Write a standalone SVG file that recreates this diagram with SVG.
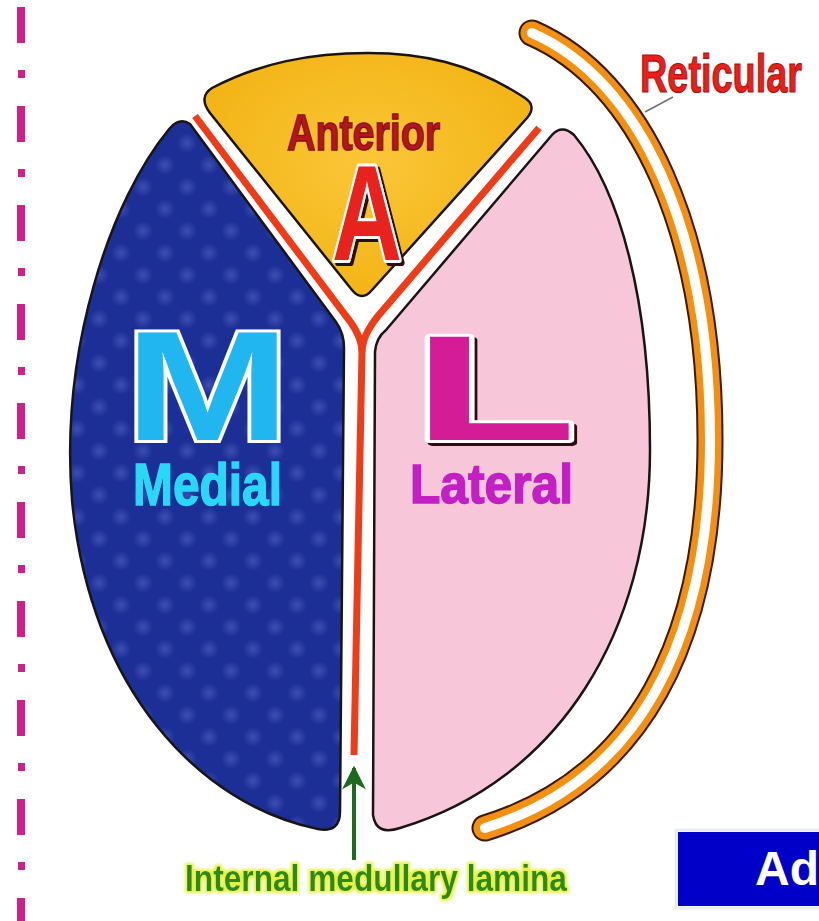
<svg xmlns="http://www.w3.org/2000/svg" width="819" height="921" viewBox="0 0 819 921">
  <style>
    .outline { stroke: #1a1414; stroke-width: 2.5; stroke-linejoin: round; }
    .heavy { font-family: "Liberation Sans", Arial, sans-serif; font-weight: bold; }
    .dash { fill: #d21e8c; }
    .big { stroke: #ffffff; stroke-width: 6; paint-order: stroke; stroke-linejoin: round; filter: url(#shadow); }
  </style>
  <defs>
    <radialGradient id="blotch" cx="50%" cy="50%" r="50%">
      <stop offset="0" stop-color="#4a5cc0" stop-opacity="0.7"/>
      <stop offset="1" stop-color="#4a5cc0" stop-opacity="0"/>
    </radialGradient>
    <pattern id="dots" width="44" height="44" patternUnits="userSpaceOnUse">
      <rect width="44" height="44" fill="#1c2f96"/>
      <circle cx="11" cy="11" r="10" fill="url(#blotch)"/>
      <circle cx="33" cy="33" r="10" fill="url(#blotch)"/>
    </pattern>
    <radialGradient id="gold" cx="50%" cy="45%" r="60%">
      <stop offset="0" stop-color="#fbc638"/>
      <stop offset="1" stop-color="#f2b313"/>
    </radialGradient>
    <!-- hard dark offset behind the big initials -->
    <filter id="shadow" x="-10%" y="-10%" width="130%" height="130%">
      <feDropShadow dx="3" dy="3" stdDeviation="0.5" flood-color="#2a0a0a" flood-opacity="1"/>
    </filter>
    <!-- yellow halo round the green caption -->
    <filter id="halo" x="-5%" y="-40%" width="110%" height="180%">
      <feMorphology in="SourceAlpha" operator="dilate" radius="2" result="grown"/>
      <feGaussianBlur in="grown" stdDeviation="1.5" result="soft"/>
      <feFlood flood-color="#e6f040"/>
      <feComposite in2="soft" operator="in" result="ring"/>
      <feMerge>
        <feMergeNode in="ring"/>
        <feMergeNode in="SourceGraphic"/>
      </feMerge>
    </filter>
    <marker id="arrowGreen" viewBox="0 0 10 10" refX="9" refY="5" markerWidth="6" markerHeight="6" markerUnits="strokeWidth" orient="auto">
      <path d="M0,0 L10,5 L0,10 L3,5 Z" fill="#1d6b1d"/>
    </marker>
  </defs>

  <rect width="819" height="921" fill="#ffffff"/>

  <!-- dashed margin rule -->
  <g id="margin-rule">
    <rect class="dash" x="17" y="7" width="8" height="36"/>
    <rect class="dash" x="18" y="70" width="7" height="8"/>
    <rect class="dash" x="17" y="106" width="8" height="36"/>
    <rect class="dash" x="18" y="169" width="7" height="8"/>
    <rect class="dash" x="17" y="205" width="8" height="36"/>
    <rect class="dash" x="18" y="268" width="7" height="8"/>
    <rect class="dash" x="17" y="304" width="8" height="36"/>
    <rect class="dash" x="18" y="367" width="7" height="8"/>
    <rect class="dash" x="17" y="403" width="8" height="36"/>
    <rect class="dash" x="18" y="466" width="7" height="8"/>
    <rect class="dash" x="17" y="502" width="8" height="36"/>
    <rect class="dash" x="18" y="565" width="7" height="8"/>
    <rect class="dash" x="17" y="601" width="8" height="36"/>
    <rect class="dash" x="18" y="664" width="7" height="8"/>
    <rect class="dash" x="17" y="700" width="8" height="36"/>
    <rect class="dash" x="18" y="763" width="7" height="8"/>
    <rect class="dash" x="17" y="799" width="8" height="36"/>
    <rect class="dash" x="18" y="862" width="7" height="8"/>
    <rect class="dash" x="17" y="898" width="8" height="23"/>
  </g>

  <!-- medial nucleus -->
  <g id="medial">
    <path class="outline" fill="url(#dots)" d="M190,124 L336,322 Q344,333 344,348 L340,812 Q340,833 318,829 C200,805 90,690 72,500 C60,350 110,200 170,128 Q180,117 190,124 Z"/>
    <text class="heavy" x="125" y="440" font-size="155" textLength="165" lengthAdjust="spacingAndGlyphs" fill="#22b6f0" stroke="#ffffff" stroke-width="6" paint-order="stroke">M</text>
    <text class="heavy" x="133" y="505" font-size="60" textLength="149" lengthAdjust="spacingAndGlyphs" fill="#2ad8f6" stroke="#2ad8f6" stroke-width="1.5">Medial</text>
  </g>

  <!-- anterior nucleus -->
  <g id="anterior">
    <path class="outline" fill="url(#gold)" d="M210,113 L352,290 Q362,302 372,290 L527,118 Q537,106 525,98 C470,62 420,53 368,53 C310,53 260,63 212,88 Q198,97 210,113 Z"/>
    <text class="heavy" x="287" y="150" font-size="50" textLength="153" lengthAdjust="spacingAndGlyphs" fill="#b3161c" stroke="#8c1014" stroke-width="1.5">Anterior</text>
    <text class="heavy big" x="332" y="260" font-size="135" textLength="70" lengthAdjust="spacingAndGlyphs" fill="#e8201c">A</text>
  </g>

  <!-- lateral nucleus -->
  <g id="lateral">
    <path class="outline" fill="#f8c6d9" d="M386,330 L552,135 Q562,124 574,135 C620,190 650,300 650,450 C650,630 560,780 400,828 Q376,836 373,815 L375,352 Q376,338 386,330 Z"/>
    <text class="heavy big" x="412" y="440" font-size="150" textLength="165" lengthAdjust="spacingAndGlyphs" fill="#d31d96">L</text>
    <text class="heavy" x="410" y="503" font-size="55" textLength="163" lengthAdjust="spacingAndGlyphs" fill="#c21fc4" stroke="#c21fc4" stroke-width="1.5">Lateral</text>
  </g>

  <!-- internal medullary lamina (Y-shaped) -->
  <g id="internal-lamina" fill="none" stroke="#ef3b18" stroke-width="7">
    <path d="M195,116 L346,316 Q362,336 362,352 L354,755"/>
    <path d="M539,128 L378,316 Q362,336 362,352"/>
  </g>

  <!-- reticular nucleus band -->
  <g id="reticular" fill="none" stroke-linecap="round">
    <path d="M532,33 C640,80 710,230 710,440 C710,640 640,780 485,828" stroke="#3a1a04" stroke-width="27"/>
    <path d="M532,33 C640,80 710,230 710,440 C710,640 640,780 485,828" stroke="#f39012" stroke-width="23"/>
    <path d="M532,33 C640,80 710,230 710,440 C710,640 640,780 485,828" stroke="#ffffff" stroke-width="10"/>
    <text class="heavy" x="640" y="92" font-size="54" textLength="162" lengthAdjust="spacingAndGlyphs" fill="#e8201a" stroke="#b01010" stroke-width="1.2">Reticular</text>
  </g>

  <!-- connectors -->
  <g id="connectors" fill="none">
    <line x1="645" y1="112" x2="673" y2="97" stroke="#707070" stroke-width="1.5"/>
    <line x1="354" y1="860" x2="354" y2="768" stroke="#1d6b1d" stroke-width="4" marker-end="url(#arrowGreen)"/>
  </g>

  <!-- bottom label -->
  <g id="lamina-label">
    <text class="heavy" x="185" y="891" font-size="37" textLength="382" lengthAdjust="spacingAndGlyphs" fill="#2a8a1a" filter="url(#halo)">Internal medullary lamina</text>
  </g>

  <!-- partial caption box at the right edge -->
  <g id="caption-box">
    <rect x="676" y="830" width="160" height="78" fill="none" stroke="#e8ecf8" stroke-width="3"/>
    <rect x="678" y="832" width="160" height="74" fill="#0000c8"/>
    <text class="heavy" x="755" y="885" font-size="48" fill="#ffffff">Ad</text>
  </g>
</svg>
